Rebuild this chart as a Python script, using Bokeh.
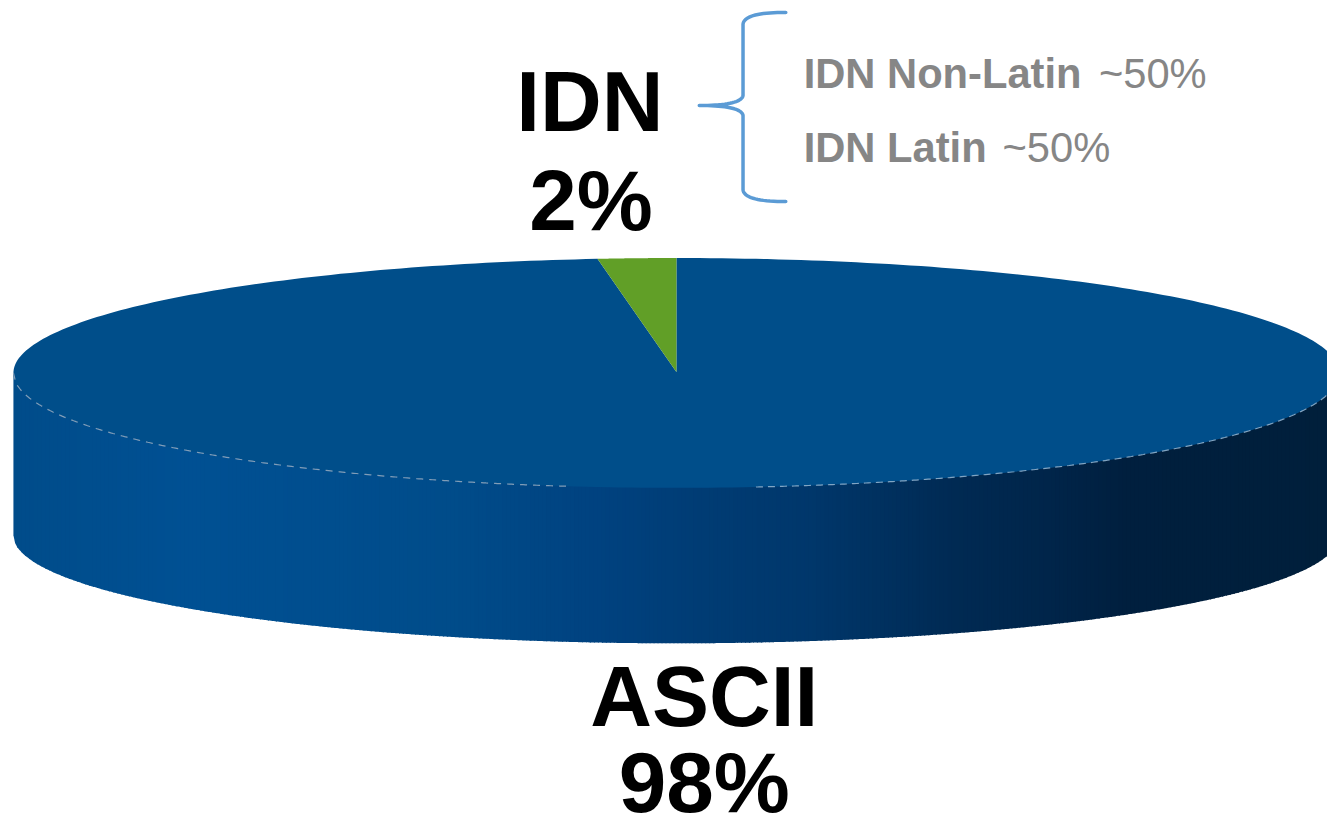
import numpy as np
from bokeh.plotting import figure
from bokeh.models import Range1d
from bokeh.core.properties import value
from bokeh.embed import file_html
from bokeh.resources import INLINE

# ---- data ----
categories = ["ASCII", "IDN"]
shares = [98.1, 1.9]              # slice sizes as drawn (estimated)
share_labels = ["98%", "2%"]
slice_colors = ["#004E8A", "#619F27"]
sub_names = ["IDN Non-Latin", "IDN Latin"]
sub_values = ["~50%", "~50%"]

# side wall shading, left to right (fraction across the pie, colour)
shade_pos = [0.0, 0.13, 0.33, 0.44, 0.52, 0.60, 0.67, 0.71, 0.78, 0.84, 1.0]
shade_col = ["#004C8A", "#005093", "#004C8A", "#004280", "#003C74", "#00376B",
             "#002F5C", "#002A53", "#00254A", "#001F3E", "#001F3B"]

# ---- geometry ----
CX, CY, RX, RY = 680.0, 376.0, 667.0, 116.0
BOTTOM_Y, BOTTOM_RY = 540.0, 109.0
TIP_Y = 375.0
SCALE = 1327 / 1335
BIG = 86 * SCALE
SMALL = 42 * SCALE
BASE_FIX = 0.385   # renderer's baseline shift, as a fraction of the font size

p = figure(width=1327, height=831, x_range=Range1d(0, 1335), y_range=Range1d(839, 0),
           x_axis_type=None, y_axis_type=None, toolbar_location=None,
           output_backend="svg", min_border=0, outline_line_color=None,
           background_fill_color="white", border_fill_color="white")
p.grid.visible = False

def hex2rgb(h):
    return np.array([int(h[i:i + 2], 16) for i in (1, 3, 5)], dtype=float)

stops = np.array([hex2rgb(c) for c in shade_col])

# side wall, as narrow shaded strips following the lower rim
left, right = CX - RX, CX + RX
edges = np.arange(left, right + 4, 4.0)
xs, ys, cols = [], [], []
for a, b in zip(edges[:-1], edges[1:]):
    f = ((a + b) / 2 - left) / (right - left)
    rgb = [np.interp(f, shade_pos, stops[:, k]) for k in range(3)]
    b2 = min(b + 1, right)
    xx = np.linspace(a, b2, 4)
    rim = BOTTOM_Y + BOTTOM_RY * np.sqrt(np.clip(1 - ((xx - CX) / RX) ** 2, 0, 1))
    xs.append(list(xx) + [b2, a])
    ys.append(list(rim) + [CY, CY])
    cols.append("#%02X%02X%02X" % tuple(int(round(v)) for v in rgb))
p.patches(xs, ys, fill_color=cols, line_color=None)

# top face: slices start at 12 o'clock and run anticlockwise from IDN
idn_angle = 2 * np.pi * shares[1] / sum(shares)
def slice_path(t0, t1):
    t = np.linspace(t0, t1, 360)
    return ([CX] + list(CX - RX * np.sin(t)), [TIP_Y] + list(CY - RY * np.cos(t)))

ax, ay = slice_path(idn_angle, 2 * np.pi)
p.patch(ax, ay, fill_color=slice_colors[0], line_color=None)
bx, by = slice_path(0, idn_angle)
p.patch(bx, by, fill_color=slice_colors[1], line_color=None)

# faint dashed highlight on the front rim of the top face
for x0, x1, col, dash, alpha in [(CX - RX, 570, "#8FA6BC", "7 6", 0.9),
                                 (760, 1335, "#8FB0CC", "7 5", 0.9)]:
    xx = np.linspace(x0, x1, 240)
    p.line(xx, CY + RY * np.sqrt(np.clip(1 - ((xx - CX) / RX) ** 2, 0, 1)),
           line_color=col, line_width=1.2, line_dash=dash, line_alpha=alpha)

# big labels
big = dict(text_font=value("Liberation Sans"), text_font_style="bold", text_color="#000000",
           text_font_size=f"{BIG:.1f}px", text_align="center", text_baseline="alphabetic",
           y_offset=-BASE_FIX * BIG)
p.text([593], [135], text=[categories[1]], **big)
p.text([594], [235], text=[share_labels[1]], **big)
p.text([708], [736], text=[categories[0]], **big)
p.text([708], [823], text=[share_labels[0]], **big)

# brace
t = np.linspace(0, 1, 20)
def curve(p0, p1, p2):
    return ((1 - t) ** 2 * p0[0] + 2 * t * (1 - t) * p1[0] + t ** 2 * p2[0],
            (1 - t) ** 2 * p0[1] + 2 * t * (1 - t) * p1[1] + t ** 2 * p2[1])
segs = [curve((790, 12), (748, 12), (747, 24)),
        curve((747, 24), (747, 60), (747, 96)),
        curve((747, 96), (745, 106), (703, 106)),
        curve((703, 106), (745, 106), (747, 116)),
        curve((747, 116), (747, 150), (747, 191)),
        curve((747, 191), (748, 203), (790, 203))]
p.line(np.concatenate([s[0] for s in segs]), np.concatenate([s[1] for s in segs]),
       line_color="#5B9BD5", line_width=3.5, line_cap="round", line_join="round")

# sub labels
sub = dict(text_font=value("Liberation Sans"), text_color="#868686",
           text_font_size=f"{SMALL:.1f}px", text_align="left", text_baseline="alphabetic",
           y_offset=-BASE_FIX * SMALL)
p.text([808], [90], text=[sub_names[0]], text_font_style="bold", **sub)
p.text([1105], [90], text=[sub_values[0]], text_font_style="normal", **sub)
p.text([808], [165], text=[sub_names[1]], text_font_style="bold", **sub)
p.text([1008], [165], text=[sub_values[1]], text_font_style="normal", **sub)

open("out.html", "w").write(file_html(p, INLINE))
